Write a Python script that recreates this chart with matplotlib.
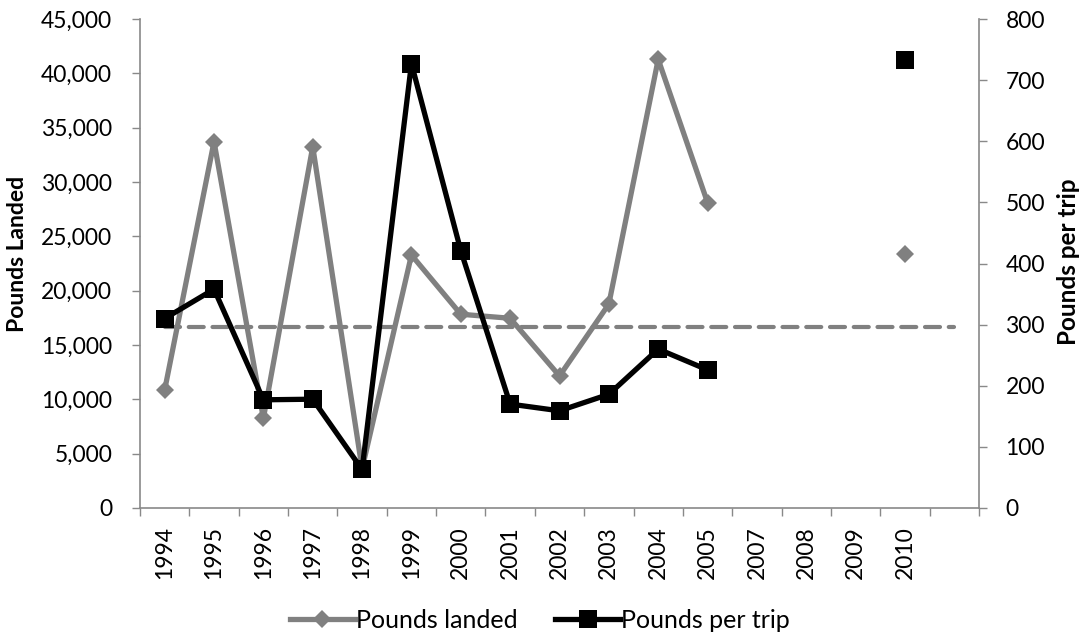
import numpy as np
import matplotlib
matplotlib.use("Agg")
import matplotlib.pyplot as plt
from matplotlib.ticker import FuncFormatter, FixedLocator, MultipleLocator

plt.rcParams['font.family'] = ['Lato', 'DejaVu Sans']

years = ["1994", "1995", "1996", "1997", "1998", "1999", "2000", "2001", "2002",
         "2003", "2004", "2005", "2007", "2008", "2009", "2010", ""]
pounds_landed = [10860, 33710, 8250, 33250, 3600, 23280, 17830, 17460, 12150,
                 18770, 41290, 28100, np.nan, np.nan, np.nan, 23370, np.nan]
pounds_per_trip = [310, 358, 177, 178, 63, 727, 421, 170, 159,
                   186, 260, 226, np.nan, np.nan, np.nan, 733, np.nan]
reference_level = [16700] * len(years)

GRAY = "#808080"
AXC = "#898989"
FS = 16.5

fig = plt.figure(figsize=(10.84, 6.37), dpi=100)
ax = fig.add_axes([140/1084, 1 - 508/637, (979-140)/1084, (508-19)/637])
ax2 = ax.twinx()

x = np.arange(len(years))

ax.plot(x, reference_level, color=GRAY, lw=3.0, dashes=(3.6, 2.1),
        dash_capstyle='round', zorder=1)
l1, = ax.plot(x, pounds_landed, color=GRAY, lw=3.8, marker='D', markersize=9,
              markeredgewidth=0, zorder=2, label="Pounds landed")
l2, = ax2.plot(x, pounds_per_trip, color='black', lw=3.8, marker='s', markersize=13,
               markeredgewidth=0, zorder=3, label="Pounds per trip")

ax.set_xlim(-0.5, len(years) - 0.5)
ax.set_ylim(0, 45000)
ax2.set_ylim(0, 800)
ax.yaxis.set_major_locator(MultipleLocator(5000))
ax2.yaxis.set_major_locator(MultipleLocator(100))
ax.yaxis.set_major_formatter(FuncFormatter(lambda v, p: f"{int(v):,}"))

ax.xaxis.set_major_locator(FixedLocator(np.arange(-0.5, len(years), 1.0)))
ax.xaxis.set_minor_locator(FixedLocator(x))
ax.set_xticklabels([], minor=False)
ax.set_xticklabels(years, minor=True, rotation=90)
ax.tick_params(axis='x', which='major', length=6, width=1, color=AXC, direction='out')
ax.tick_params(axis='x', which='minor', length=0, pad=13, labelsize=FS)

ax.tick_params(axis='y', length=6, width=1, color=AXC, pad=14, labelsize=FS)
ax2.tick_params(axis='y', length=6, width=1, color=AXC, pad=13, labelsize=FS)

for a in (ax, ax2):
    a.spines['top'].set_visible(False)
    for s in ('left', 'right', 'bottom'):
        a.spines[s].set_color(AXC)
        a.spines[s].set_linewidth(1.2)
ax.spines['right'].set_visible(False)
ax2.spines['left'].set_visible(False)
ax2.spines['bottom'].set_visible(False)

fig.text(18/1084, 1 - 254/637, "Pounds Landed", fontsize=FS, fontweight='bold',
         rotation=90, ha='center', va='center')
fig.text(1068/1084, 1 - 262/637, "Pounds per trip", fontsize=17.5, fontweight='bold',
         rotation=90, ha='center', va='center')

fig.legend(handles=[l1, l2], loc='center', bbox_to_anchor=(0.498, 1 - 620/637),
           ncol=2, frameon=False, fontsize=18, handlelength=2.6,
           handletextpad=0.05, columnspacing=1.5)

fig.savefig("out.png", dpi=100)
